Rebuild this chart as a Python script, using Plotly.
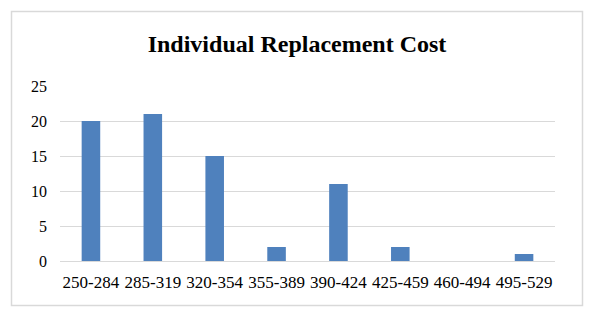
import plotly.graph_objects as go

categories = ["250-284", "285-319", "320-354", "355-389", "390-424", "425-459", "460-494", "495-529"]
counts = [20, 21, 15, 2, 11, 2, 0, 1]
y_ticks = [0, 5, 10, 15, 20, 25]

L, R, T, B = 60, 39, 86, 58
W, H = 594, 319
pw, ph = W - L - R, H - T - B

fig = go.Figure(go.Bar(x=categories, y=counts, marker_color="#4F81BD", marker_line_width=0))

def px_x(x):
    return (x - L) / pw

def px_y(y):
    return (H - B - y) / ph

fig.add_shape(type="rect", xref="paper", yref="paper",
              x0=px_x(11.5), x1=px_x(582.5), y0=px_y(305.5), y1=px_y(11.5),
              line=dict(color="#D9D9D9", width=1.5), fillcolor="rgba(0,0,0,0)", layer="below")

fig.update_layout(
    width=W, height=H,
    margin=dict(l=L, r=R, t=T, b=B),
    paper_bgcolor="white", plot_bgcolor="white",
    bargap=0.7,
    showlegend=False,
    title=dict(text="<b>Individual Replacement Cost</b>", x=0.5, xanchor="center",
               y=1 - 44 / H, yanchor="middle", yref="container",
               font=dict(family="Liberation Serif", size=24, color="black")),
    font=dict(family="Liberation Serif", size=16, color="black"),
)
fig.update_xaxes(showgrid=False, showline=True, linecolor="#D9D9D9", linewidth=1, ticks="",
                 tickfont=dict(size=17), ticklabelstandoff=6)
fig.update_yaxes(range=[0, 25], tickvals=y_ticks, showgrid=True, gridcolor="#D9D9D9", gridwidth=1,
                 zeroline=False, showline=False, ticks="", tickfont=dict(size=16), ticklabelstandoff=12)

fig.write_html("out.html", config={"displayModeBar": False},
               post_script="document.body.style.margin='0';")
